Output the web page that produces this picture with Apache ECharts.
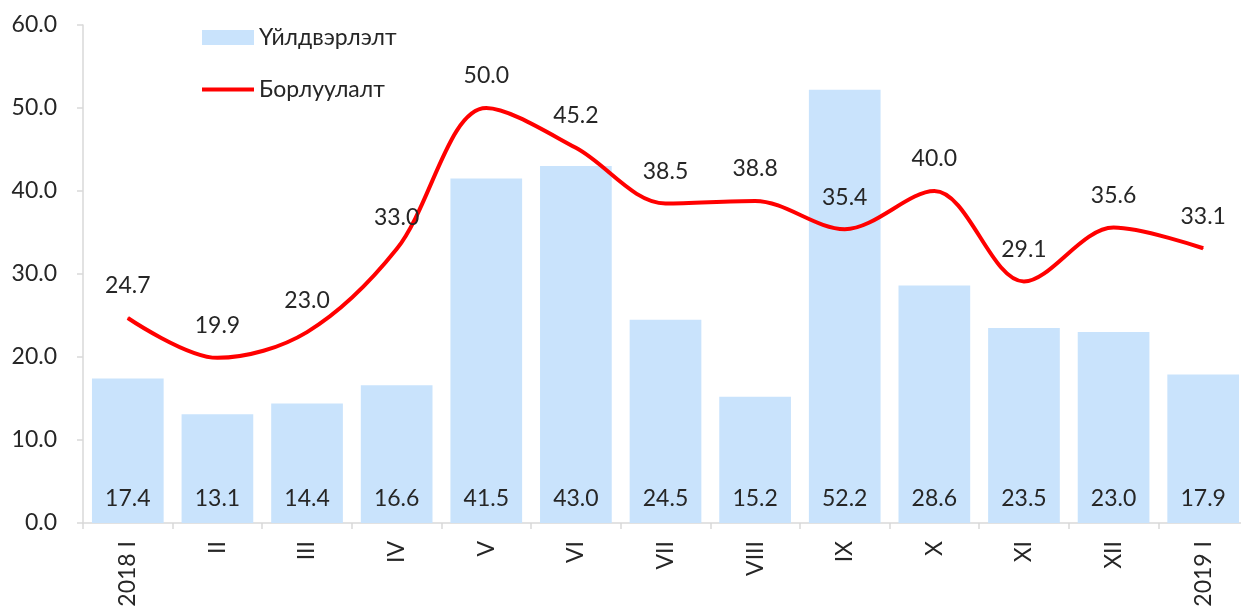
<!DOCTYPE html>
<html><head><meta charset="utf-8">
<script src="https://cdn.jsdelivr.net/npm/echarts@6/dist/echarts.min.js"></script>
<style>html,body{margin:0;padding:0;background:#fff}#c{width:1241px;height:606px}</style>
</head><body><div id="c"></div>
<script>
const categories = ['2018 I','II','III','IV','V','VI','VII','VIII','IX','X','XI','XII','2019 I'];
const production = [17.4,13.1,14.4,16.6,41.5,43.0,24.5,15.2,52.2,28.6,23.5,23.0,17.9];
const sales = [24.7,19.9,23.0,33.0,50.0,45.2,38.5,38.8,35.4,40.0,29.1,35.6,33.1];
const seriesNames = ['Үйлдвэрлэлт','Борлуулалт'];
const FONT = 'Lato';
const FS = 23;
const TXT = '#262626';
const chart = echarts.init(document.getElementById('c'), null, {renderer:'canvas'});
chart.setOption({
  animation:false,
  textStyle:{fontFamily:FONT},
  grid:{left:83,width:1165,top:25,bottom:83,containLabel:false,outerBoundsMode:'none'},
  legend:[
    {orient:'vertical', left:197, top:21, itemWidth:52, itemHeight:15, itemGap:0, itemTextGap:8,
     textStyle:{fontFamily:FONT,fontSize:FS,color:TXT},
     data:[{name:seriesNames[0],icon:'rect'}]},
    {orient:'vertical', left:197, top:73, itemWidth:52, itemHeight:4, itemGap:0, itemTextGap:8,
     textStyle:{fontFamily:FONT,fontSize:FS,color:TXT},
     data:[{name:seriesNames[1],icon:'rect',itemStyle:{color:'#ff0000'}}]}
  ],
  xAxis:{
    type:'category', data:categories, boundaryGap:true,
    axisLine:{lineStyle:{color:'#d9d9d9',width:1.5}},
    axisTick:{show:true,length:6,lineStyle:{color:'#d9d9d9',width:1.5}},
    axisLabel:{rotate:90,margin:18,fontFamily:FONT,fontSize:FS,color:TXT}
  },
  yAxis:{
    type:'value', min:0, max:60, interval:10,
    axisLine:{show:true,lineStyle:{color:'#d9d9d9',width:1.5}},
    axisTick:{show:true,length:6,lineStyle:{color:'#d9d9d9',width:1.5}},
    splitLine:{show:false},
    axisLabel:{margin:26,fontFamily:FONT,fontSize:FS,color:TXT,formatter:v=>v.toFixed(1)}
  },
  series:[
    {name:seriesNames[0],type:'bar',data:production,barCategoryGap:'20%',
     itemStyle:{color:'#c9e3fc'},
     label:{show:true,position:'insideBottom',distance:13,fontFamily:FONT,fontSize:FS,color:TXT,formatter:p=>p.value.toFixed(1)}},
    {name:seriesNames[1],type:'line',data:sales,smooth:0.33,symbol:'circle',symbolSize:1,showSymbol:true,
     lineStyle:{color:'#ff0000',width:4},itemStyle:{color:'#ff0000'},
     label:{show:true,position:'top',distance:20,fontFamily:FONT,fontSize:FS,color:TXT,formatter:p=>p.value.toFixed(1)}}
  ]
});
</script></body></html>
